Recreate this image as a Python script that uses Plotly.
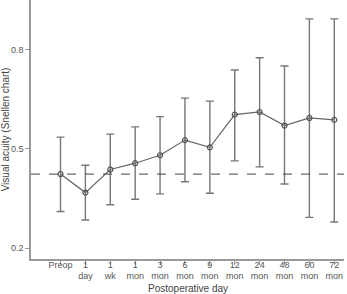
import plotly.graph_objects as go

categories = ["Preop", "1<br>day", "1<br>wk", "1<br>mon", "3<br>mon", "6<br>mon",
              "9<br>mon", "12<br>mon", "24<br>mon", "48<br>mon", "60<br>mon", "72<br>mon"]
mean_va = [0.424, 0.368, 0.438, 0.457, 0.481, 0.527, 0.505, 0.604, 0.612, 0.571, 0.594, 0.588]
upper_va = [0.536, 0.451, 0.545, 0.567, 0.598, 0.654, 0.645, 0.739, 0.776, 0.751, 0.894, 0.894]
lower_va = [0.311, 0.285, 0.331, 0.348, 0.364, 0.401, 0.366, 0.464, 0.446, 0.394, 0.293, 0.279]
baseline = 0.424
y_ticks = [0.2, 0.5, 0.8]

err_plus = [u - m for u, m in zip(upper_va, mean_va)]
err_minus = [m - l for m, l in zip(mean_va, lower_va)]
xs = list(range(len(categories)))

fig = go.Figure()
fig.add_trace(go.Scatter(
    x=xs, y=mean_va, mode="lines+markers",
    line=dict(color="#666666", width=1.2),
    marker=dict(symbol="circle-open", size=5, color="#555555", line=dict(width=1.2)),
    error_y=dict(type="data", symmetric=False, array=err_plus, arrayminus=err_minus,
                 color="#777777", thickness=1.4, width=4),
    showlegend=False,
))
fig.add_hline(y=baseline, line=dict(color="#444444", width=1, dash="dash"))

fig.add_annotation(text="Postoperative day", xref="paper", yref="paper", x=0.5, y=0,
                   xanchor="center", yanchor="top", yshift=-22, showarrow=False,
                   font=dict(size=10, color="#444444"))

fig.update_layout(
    width=347, height=294,
    margin=dict(l=31, r=3, t=0, b=35),
    paper_bgcolor="white", plot_bgcolor="white",
    font=dict(family="Liberation Sans, Arial, sans-serif", size=9, color="#555555"),
    xaxis=dict(
        range=[-1.185, 11.39], tickmode="array", tickvals=xs, ticktext=categories,
        showgrid=False, zeroline=False, showline=True, linecolor="#999999", linewidth=1.5,
        ticks="outside", ticklen=4, tickcolor="#999999", automargin=False,
        ticklabelstandoff=-8,
    ),
    yaxis=dict(
        range=[0.167, 0.951], tickmode="array", tickvals=y_ticks,
        ticktext=["0.2", "0.5", "0.8"],
        showgrid=False, zeroline=False, showline=True, linecolor="#999999", linewidth=1.5,
        ticks="outside", ticklen=4, tickcolor="#999999", automargin=False,
        title=dict(text="Visual acuity (Snellen chart)", font=dict(size=10, color="#444444"), standoff=4),
    ),
)
fig.write_html("out.html")
